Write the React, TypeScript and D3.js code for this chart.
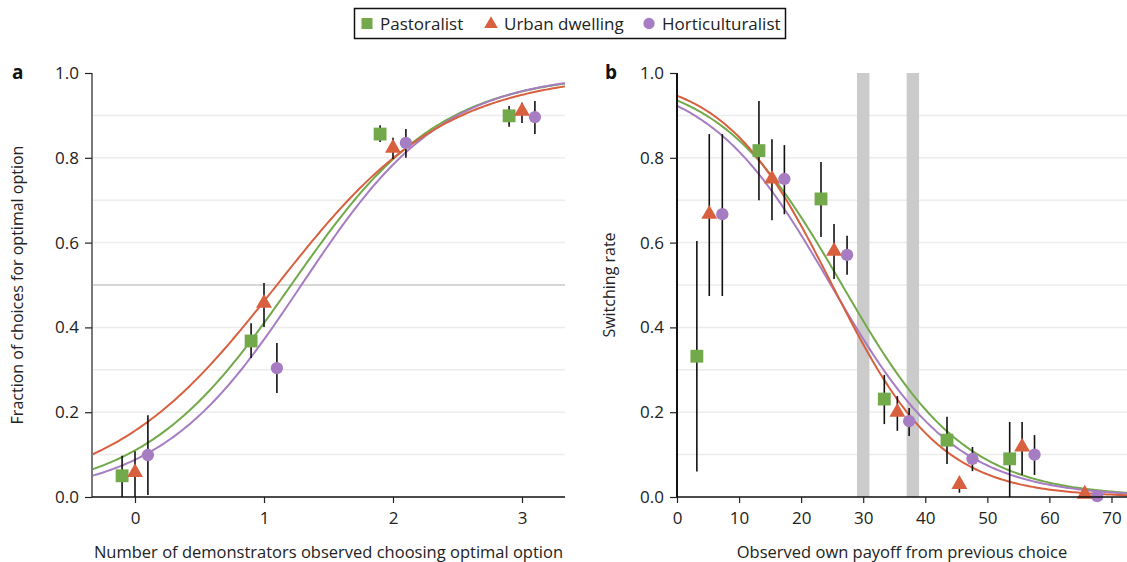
import { useRef, useEffect } from 'react';
import * as d3 from 'd3';

// groups (same order everywhere): Pastoralist, Urban dwelling, Horticulturalist
const groups = ['Pastoralist', 'Urban dwelling', 'Horticulturalist'];
const colors = ['#72a94a', '#d8603f', '#a67dc2'];
const shapes = [d3.symbolSquare, d3.symbolTriangle, d3.symbolCircle];

// panel a: number of demonstrators
const aX = [[-0.1, 0.9, 1.9, 2.9], [0, 1, 2, 3], [0.1, 1.1, 2.1, 3.1]];
const aY = [[0.05, 0.368, 0.856, 0.899], [0.058, 0.457, 0.823, 0.91], [0.099, 0.304, 0.835, 0.896]];
const aLow = [[0, 0.328, 0.837, 0.873], [0, 0.401, 0.797, 0.882], [0.005, 0.245, 0.8, 0.856]];
const aHigh = [[0.097, 0.41, 0.877, 0.922], [0.108, 0.505, 0.847, 0.93], [0.193, 0.363, 0.868, 0.934]];
// fitted logistic curves (midpoint, slope)
const aMid = [1.21, 1.1, 1.29];
const aSlope = [1.728, 1.533, 1.814];
const aTicks = [0, 1, 2, 3];

// panel b: own payoff
const bX = [
  [3.2, 13.2, 23.2, 33.4, 43.5, 53.6],
  [5.2, 15.3, 25.3, 35.5, 45.5, 55.6, 65.7],
  [7.3, 17.3, 27.4, 37.4, 47.6, 57.6, 67.7],
];
const bY = [
  [0.332, 0.817, 0.703, 0.231, 0.134, 0.09],
  [0.667, 0.75, 0.58, 0.2, 0.03, 0.118, 0.007],
  [0.667, 0.75, 0.571, 0.179, 0.09, 0.1, 0.002],
];
const bLow = [
  [0.06, 0.7, 0.613, 0.172, 0.078, 0],
  [0.474, 0.653, 0.514, 0.156, 0.01, 0.052, 0],
  [0.474, 0.667, 0.524, 0.144, 0.061, 0.052, 0],
];
const bHigh = [
  [0.604, 0.934, 0.79, 0.288, 0.189, 0.177],
  [0.856, 0.844, 0.644, 0.238, 0.03, 0.177, 0.007],
  [0.856, 0.83, 0.616, 0.21, 0.118, 0.146, 0.002],
];
const bMid = [26.6, 25.0, 24.8];
const bSlope = [-0.1004, -0.115, -0.1];
const bTicks = [0, 10, 20, 30, 40, 50, 60, 70];
const bBands = [[29, 31], [37, 39]];

const yTicks = [0, 0.2, 0.4, 0.6, 0.8, 1.0];
const yGrid = d3.range(1, 10).map(i => i / 10);

const FONT = '"Open Sans", sans-serif';

const drawPanel = (svg, cfg) => {
  const { left, right, top, bottom, xDomain, xs, ys, lows, highs, mids, slopes, ticks, tickFmt,
    xTitle, yTitle, yTitleX, label, yAxisColor, midLine, bands } = cfg;
  const x = d3.scaleLinear().domain(xDomain).range([left, right]);
  const y = d3.scaleLinear().domain([0, 1]).range([bottom, top]);
  const g = svg.append('g');

  // grid
  g.selectAll('line.grid')
    .data(yGrid)
    .enter()
    .append('line')
    .attr('x1', left).attr('x2', right)
    .attr('y1', d => y(d)).attr('y2', d => y(d))
    .attr('stroke', d => (midLine && Math.abs(d - 0.5) < 1e-6 ? '#d6d6d6' : '#ececec'))
    .attr('stroke-width', d => (midLine && Math.abs(d - 0.5) < 1e-6 ? 2 : 1.5));

  // shaded bands
  if (bands) {
    g.selectAll('rect.band')
      .data(bands)
      .enter()
      .append('rect')
      .attr('x', d => x(d[0]))
      .attr('width', d => x(d[1]) - x(d[0]))
      .attr('y', top)
      .attr('height', bottom - top)
      .attr('fill', '#cbcbcb');
  }

  // fitted curves
  const samples = d3.range(0, 201).map(i => xDomain[0] + (xDomain[1] - xDomain[0]) * i / 200);
  const line = d3.line().x(d => x(d[0])).y(d => y(d[1]));
  [0, 2, 1].forEach(k => {
    const pts = samples.map(v => [v, 1 / (1 + Math.exp(-slopes[k] * (v - mids[k])))]);
    g.append('path')
      .attr('d', line(pts))
      .attr('fill', 'none')
      .attr('stroke', colors[k])
      .attr('stroke-width', 2);
  });

  // error bars
  groups.forEach((_, k) => {
    g.selectAll(`line.err${k}`)
      .data(xs[k].map((v, i) => ({ v, lo: lows[k][i], hi: highs[k][i] })))
      .enter()
      .append('line')
      .attr('x1', d => x(d.v)).attr('x2', d => x(d.v))
      .attr('y1', d => y(d.lo)).attr('y2', d => y(d.hi))
      .attr('stroke', '#111')
      .attr('stroke-width', 1.6);
  });

  // markers
  groups.forEach((_, k) => {
    const size = k === 0 ? 165 : k === 1 ? 110 : 120;
    g.selectAll(`path.pt${k}`)
      .data(xs[k].map((v, i) => ({ v, val: ys[k][i] })))
      .enter()
      .append('path')
      .attr('d', d3.symbol().type(shapes[k]).size(size))
      .attr('transform', d => `translate(${x(d.v)},${y(d.val)})`)
      .attr('fill', colors[k]);
  });

  // axes
  const yAxis = g.append('g')
    .attr('transform', `translate(${left},0)`)
    .call(d3.axisLeft(y).tickValues(yTicks).tickFormat(d3.format('.1f')).tickSize(7).tickPadding(6));
  yAxis.select('.domain').attr('stroke', yAxisColor).attr('stroke-width', 2).attr('d', `M0,${top}V${bottom}`);
  yAxis.selectAll('.tick line').attr('stroke', '#222').attr('stroke-width', 1.2);
  yAxis.selectAll('text').attr('font-size', 17).attr('font-family', FONT).attr('fill', '#222');

  const xAxis = g.append('g')
    .attr('transform', `translate(0,${bottom})`)
    .call(d3.axisBottom(x).tickValues(ticks).tickFormat(tickFmt).tickSize(6).tickPadding(9));
  xAxis.select('.domain').attr('stroke', '#111').attr('stroke-width', 1.5).attr('d', `M${left},0H${right}`);
  xAxis.selectAll('.tick line').attr('stroke', '#222').attr('stroke-width', 1.2);
  xAxis.selectAll('text').attr('font-size', 17).attr('font-family', FONT).attr('fill', '#222');

  // titles
  g.append('text')
    .text(xTitle)
    .attr('x', (left + right) / 2)
    .attr('y', 558)
    .attr('text-anchor', 'middle')
    .attr('font-size', 16.5)
    .attr('font-family', FONT)
    .attr('fill', '#222');

  g.append('text')
    .text(yTitle)
    .attr('transform', `translate(${yTitleX},${(top + bottom) / 2}) rotate(-90)`)
    .attr('text-anchor', 'middle')
    .attr('font-size', 16)
    .attr('font-family', FONT)
    .attr('fill', '#222');

  g.append('text')
    .text(label)
    .attr('x', cfg.labelX)
    .attr('y', 79)
    .attr('font-size', 19)
    .attr('font-weight', 'bold')
    .attr('font-family', FONT)
    .attr('fill', '#111');
};

const App = () => {
  const svgRef = useRef();

  useEffect(() => {
    const svg = d3.select(svgRef.current);
    svg.selectAll('*').remove();

    drawPanel(svg, {
      left: 92, right: 565, top: 73, bottom: 497,
      xDomain: [-1 / 3, 10 / 3],
      xs: aX, ys: aY, lows: aLow, highs: aHigh, mids: aMid, slopes: aSlope,
      ticks: aTicks, tickFmt: d3.format('d'),
      xTitle: 'Number of demonstrators observed choosing optimal option',
      yTitle: 'Fraction of choices for optimal option', yTitleX: 23,
      label: 'a', labelX: 12, yAxisColor: '#7a7a7a', midLine: true,
    });

    drawPanel(svg, {
      left: 677, right: 1127, top: 73, bottom: 497,
      xDomain: [0, 72.5],
      xs: bX, ys: bY, lows: bLow, highs: bHigh, mids: bMid, slopes: bSlope,
      ticks: bTicks, tickFmt: d3.format('d'),
      xTitle: 'Observed own payoff from previous choice',
      yTitle: 'Switching rate', yTitleX: 615,
      label: 'b', labelX: 605, yAxisColor: '#111', midLine: false, bands: bBands,
    });

    // legend
    const lg = svg.append('g');
    lg.append('rect')
      .attr('x', 354.5).attr('y', 8.5).attr('width', 431).attr('height', 30)
      .attr('fill', 'white').attr('stroke', '#111').attr('stroke-width', 1.5);
    const legX = [367, 491, 649];
    const legSize = [121, 80, 100];
    groups.forEach((name, k) => {
      lg.append('path')
        .attr('d', d3.symbol().type(shapes[k]).size(legSize[k]))
        .attr('transform', `translate(${legX[k]},${k === 1 ? 24 : 23.5})`)
        .attr('fill', colors[k]);
      lg.append('text')
        .text(name)
        .attr('x', legX[k] + 13)
        .attr('y', 29.5)
        .attr('font-size', 17)
        .attr('font-family', FONT)
        .attr('fill', '#222');
    });
  }, []);

  return (
    <svg ref={svgRef} width={1127} height={562}
      style={{ position: 'absolute', left: 0, top: 0, background: 'white' }} />
  );
};

export default App;
